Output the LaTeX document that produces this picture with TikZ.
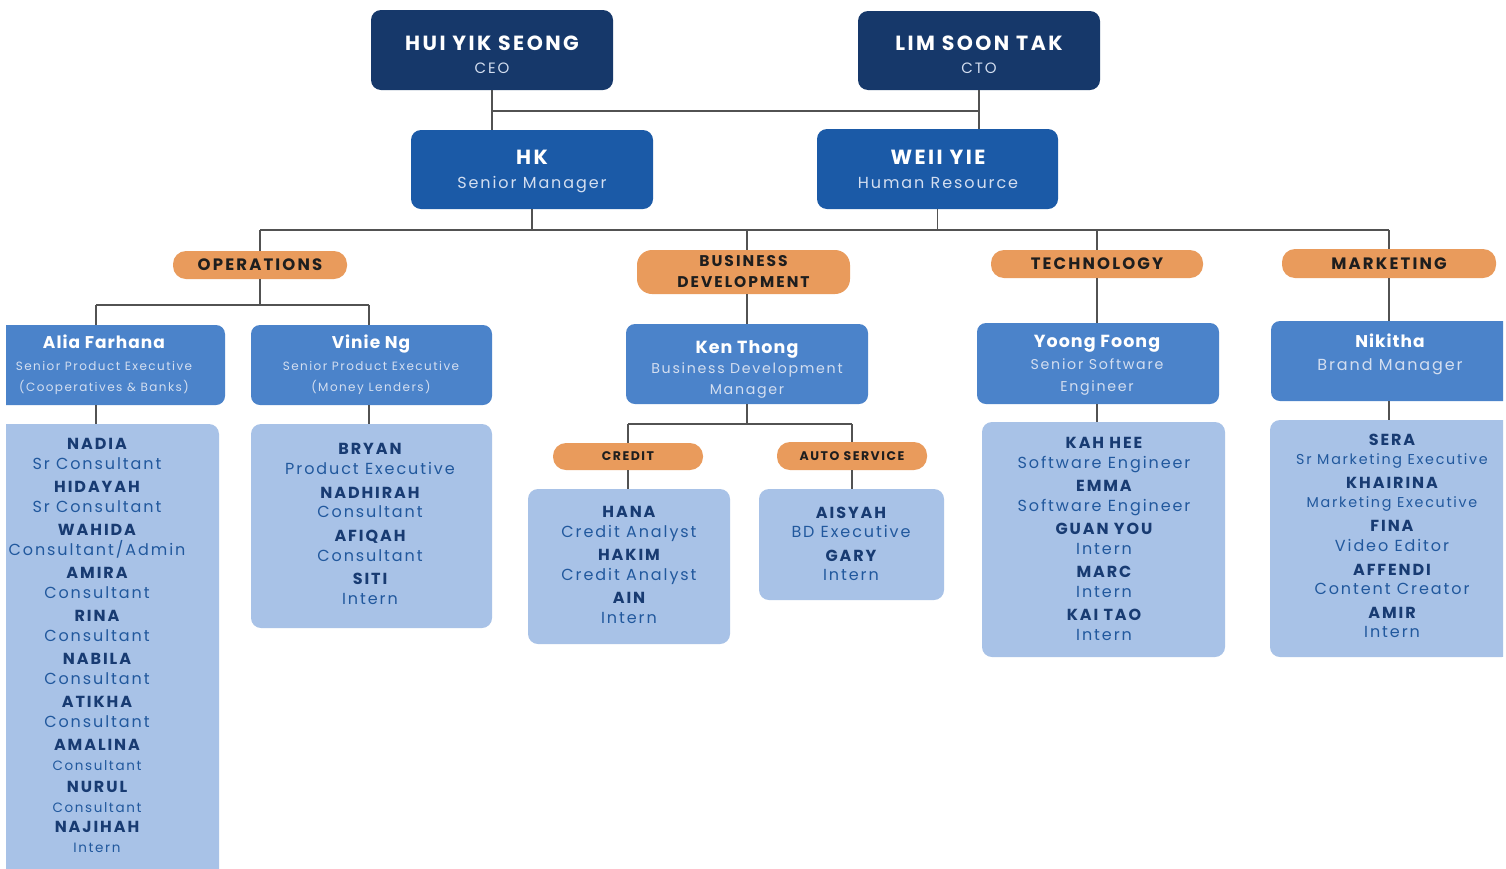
\documentclass[tikz,border=0pt]{standalone}
\usepackage{fontspec}
\setmainfont{Poppins}
\newfontfamily\pa{Poppins}[LetterSpace=12]
\newfontfamily\pd{Poppins}[LetterSpace=6]
\newfontfamily\pb{Poppins}[LetterSpace=12]
\newfontfamily\pc{Poppins}[LetterSpace=13]
\newfontfamily\pe{Poppins}[LetterSpace=12]
\newcommand\fz[2]{\fontsize{#1}{#2}\selectfont}
\newcommand\pp[2]{{\pa\bfseries\color{namec}#1}\\#2}
\definecolor{navy}{HTML}{16386A}
\definecolor{midblue}{HTML}{1B5AA7}
\definecolor{boxblue}{HTML}{4B83CA}
\definecolor{listblue}{HTML}{A8C2E7}
\definecolor{pillc}{HTML}{E99B5C}
\definecolor{linec}{HTML}{525252}
\definecolor{namec}{HTML}{183B72}
\definecolor{titlec}{HTML}{21589D}
\definecolor{subc}{HTML}{D3DEF0}
\definecolor{pilltext}{HTML}{1E1E1E}
\begin{document}
\begin{tikzpicture}[x=1pt,y=-1pt,
  ceobox/.style={fill=navy, rounded corners=10pt, minimum width=242pt, minimum height=80pt, inner sep=0pt},
  mgrbox/.style={fill=midblue, rounded corners=10pt, minimum width=242pt, minimum height=80pt, inner sep=0pt},
  leadbox/.style={fill=boxblue, rounded corners=9pt, minimum width=242pt, minimum height=80pt, inner sep=0pt},
  grpbox/.style={fill=listblue, rounded corners=10pt, inner sep=0pt},
  deptpill/.style={fill=pillc, rounded corners=13pt, minimum height=28pt, inner sep=0pt, text=pilltext, align=center},
  conn/.style={draw=linec, line width=1.6pt},
  txt/.style={anchor=north, inner sep=0pt, align=center},
  listtxt/.style={txt, text=titlec, font=\pb\fz{16}{19.5}},
]
\useasboundingbox (0,0) rectangle (1506,868);
\fill[white] (0,0) rectangle (1506,868);
\begin{scope}
\clip (6,0) rectangle (1503,868);
% ---------- boxes ----------
\node[ceobox] (ceo) at (492,50) {};
\node[ceobox, minimum height=79pt] (cto) at (979,50.5) {};
\node[mgrbox, minimum height=79pt] (hk) at (532,169.5) {};
\node[mgrbox, minimum width=241pt] (weii) at (937.5,169) {};
\node[deptpill, minimum width=174pt, font=\pc\bfseries\fz{16.5}{21}] (ops) at (260,265) {OPERATIONS};
\node[deptpill, minimum width=213pt, minimum height=44pt, rounded corners=15pt, font=\pc\bfseries\fz{15.5}{21}] (bd) at (743.5,272) {BUSINESS\\DEVELOPMENT};
\node[deptpill, minimum width=212pt, font=\pc\bfseries\fz{16.5}{21}] (tech) at (1097,264) {TECHNOLOGY};
\node[deptpill, minimum width=214pt, minimum height=29pt, font=\pc\bfseries\fz{16.5}{21}] (mkt) at (1389,263.5) {MARKETING};
\node[leadbox, minimum width=241pt] (alia) at (104.5,365) {};
\node[leadbox, minimum width=241pt] (vinie) at (371.5,365) {};
\node[leadbox] (ken) at (747,364) {};
\node[leadbox, minimum height=81pt] (yoong) at (1098,363.5) {};
\node[leadbox] (nik) at (1392,361) {};
\node[grpbox, minimum width=244pt, minimum height=476pt] (alialist) at (97,662) {};
\node[grpbox, minimum width=241pt, minimum height=204pt] (vinielist) at (371.5,526) {};
\node[deptpill, minimum width=150pt, minimum height=27pt, font=\pe\bfseries\fz{12.5}{16}] (credit) at (628,456.5) {CREDIT};
\node[deptpill, minimum width=150pt, font=\pe\bfseries\fz{12.5}{16}] (auto) at (852,456) {AUTO SERVICE};
\node[grpbox, minimum width=202pt, minimum height=155pt] (creditlist) at (629,566.5) {};
\node[grpbox, minimum width=185pt, minimum height=111pt] (autolist) at (851.5,544.5) {};
\node[grpbox, minimum width=243pt, minimum height=235pt] (techlist) at (1103.5,539.5) {};
\node[grpbox, minimum width=242pt, minimum height=237pt] (mktlist) at (1391,538.5) {};
\end{scope}
% ---------- connectors ----------
\coordinate (bus1) at (0,111);
\coordinate (bus2) at (0,230);
\coordinate (bus3) at (0,305);
\coordinate (bus4) at (0,424);
\coordinate (xa) at (96,0);
\coordinate (xv) at (369,0);
\draw[conn] (ceo.south) -- (ceo.south |- hk.north);
\draw[conn] (cto.south) -- (cto.south |- weii.north);
\draw[conn] (ceo.south |- bus1) -- (cto.south |- bus1);
\draw[conn] (hk.south) -- (hk.south |- bus2);
\draw[conn] (weii.south) -- (weii.south |- bus2);
\draw[conn] (ops.north |- bus2) -- (mkt.north |- bus2);
\draw[conn] (ops.north |- bus2) -- (ops.north);
\draw[conn] (ken.north |- bus2) -- (ken.north |- bd.north);
\draw[conn] (tech.north |- bus2) -- (tech.north);
\draw[conn] (mkt.north |- bus2) -- (mkt.north);
\draw[conn] (ops.south) -- (ops.south |- bus3);
\draw[conn] (xa |- bus3) -- (xv |- bus3);
\draw[conn] (xa |- bus3) -- (xa |- alia.north);
\draw[conn] (xv |- bus3) -- (xv |- vinie.north);
\draw[conn] (xa |- alia.south) -- (xa |- alialist.north);
\draw[conn] (xv |- vinie.south) -- (xv |- vinielist.north);
\draw[conn] (ken.north |- bd.south) -- (ken.north);
\draw[conn] (ken.south) -- (ken.south |- bus4);
\draw[conn] (credit.north |- bus4) -- (auto.north |- bus4);
\draw[conn] (credit.north |- bus4) -- (credit.north);
\draw[conn] (auto.north |- bus4) -- (auto.north);
\draw[conn] (credit.south) -- (credit.south |- creditlist.north);
\draw[conn] (auto.south) -- (auto.south |- autolist.north);
\draw[conn] (tech.south) -- (tech.south |- yoong.north);
\draw[conn] (tech.south |- yoong.south) -- (tech.south |- techlist.north);
\draw[conn] (mkt.south) -- (mkt.south |- nik.north);
\draw[conn] (mkt.south |- nik.south) -- (mkt.south |- mktlist.north);
% ---------- texts ----------
\node[txt, text=white, font=\pb\fz{15}{22.5}] (ceo-t) at (492,36) {{\pa\bfseries\fz{20.5}{22.5}HUI YIK SEONG}\\{\color{subc}CEO}};
\node[txt, text=white, font=\pb\fz{15}{22.5}] (cto-t) at (979,36) {{\pa\bfseries\fz{20.5}{22.5}LIM SOON TAK}\\{\color{subc}CTO}};
\node[txt, text=white, font=\pb\fz{16}{24}] (hk-t) at (532,150) {{\pa\bfseries\fz{20.5}{24}HK}\\{\color{subc}Senior Manager}};
\node[txt, text=white, font=\pb\fz{16}{24}] (weii-t) at (938,150) {{\pa\bfseries\fz{20.5}{24}WEII YIE}\\{\color{subc}Human Resource}};
\node[txt, text=subc, font=\pb\fz{12}{21.5}] (alia-t) at (104,335) {{\pd\bfseries\color{white}\fz{17}{21.5}Alia Farhana}\\Senior Product Executive\\(Cooperatives \& Banks)};
\node[txt, text=subc, font=\pb\fz{12}{21.5}] (vinie-t) at (371,335) {{\pd\bfseries\color{white}\fz{17}{21.5}Vinie Ng}\\Senior Product Executive\\(Money Lenders)};
\node[txt, text=subc, font=\pb\fz{14.2}{20.5}] (ken-t) at (747,340) {{\pd\bfseries\color{white}\fz{17.5}{20.5}Ken Thong}\\Business Development\\Manager};
\node[txt, text=subc, font=\pb\fz{14.2}{22}] (yoong-t) at (1097,335) {{\pd\bfseries\color{white}\fz{17.5}{22}Yoong Foong}\\Senior Software\\Engineer};
\node[txt, text=subc, font=\pb\fz{16}{23}] (nik-t) at (1390,334) {{\pd\bfseries\color{white}\fz{17}{23}Nikitha}\\Brand Manager};
\node[listtxt] (alialist-t) at (97,438.5) {\pp{NADIA}{Sr Consultant}\\[4pt]
\pp{HIDAYAH}{Sr Consultant}\\[4pt]
\pp{WAHIDA}{Consultant/Admin}\\[4pt]
\pp{AMIRA}{Consultant}\\[4pt]
\pp{RINA}{Consultant}\\[4pt]
\pp{NABILA}{Consultant}\\[4pt]
\pp{ATIKHA}{Consultant}\\[4pt]
\pp{AMALINA}{{\fz{13.5}{19.5}Consultant}}\\[3pt]
\pp{NURUL}{{\fz{13.5}{19.5}Consultant}}\\[1pt]
\pp{NAJIHAH}{{\fz{13.5}{19.5}Intern}}};
\node[listtxt] (vinielist-t) at (370,443.5) {\pp{BRYAN}{Product Executive}\\[4.3pt]
\pp{NADHIRAH}{Consultant}\\[4.3pt]
\pp{AFIQAH}{Consultant}\\[4.3pt]
\pp{SITI}{Intern}};
\node[listtxt] (creditlist-t) at (629,506.5) {\pp{HANA}{Credit Analyst}\\[4pt]
\pp{HAKIM}{Credit Analyst}\\[4pt]
\pp{AIN}{Intern}};
\node[listtxt] (autolist-t) at (851,506.5) {\pp{AISYAH}{BD Executive}\\[4pt]
\pp{GARY}{Intern}};
\node[listtxt] (techlist-t) at (1104,437.5) {\pp{KAH HEE}{Software Engineer}\\[4pt]
\pp{EMMA}{Software Engineer}\\[4pt]
\pp{GUAN YOU}{Intern}\\[4pt]
\pp{MARC}{Intern}\\[4pt]
\pp{KAI TAO}{Intern}};
\node[listtxt] (mktlist-t) at (1392,433.5) {\pp{SERA}{{\fz{14.3}{19.5}Sr Marketing Executive}}\\[4.3pt]
\pp{KHAIRINA}{{\fz{14.3}{19.5}Marketing Executive}}\\[4.3pt]
\pp{FINA}{Video Editor}\\[4.3pt]
\pp{AFFENDI}{Content Creator}\\[4.3pt]
\pp{AMIR}{Intern}};
\end{tikzpicture}
\end{document}
